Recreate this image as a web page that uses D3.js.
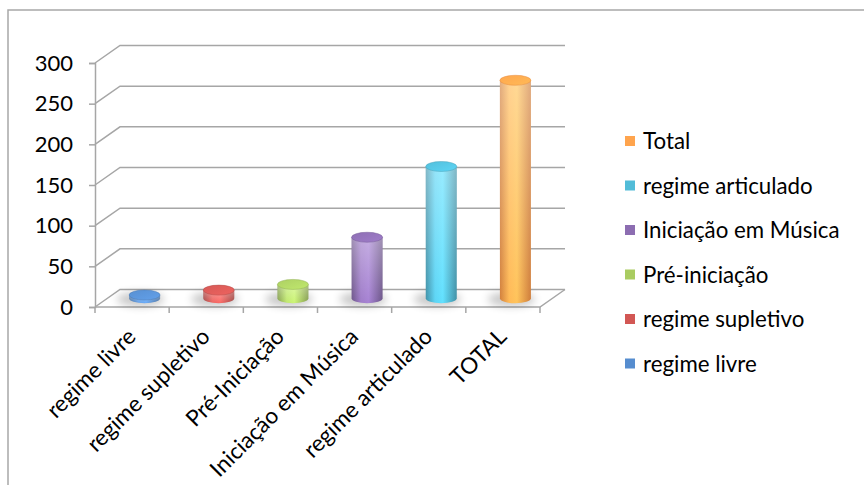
<!DOCTYPE html>
<html>
<head>
<meta charset="utf-8">
<script src="https://cdn.jsdelivr.net/npm/d3@7"></script>
<style>
  html, body { margin: 0; padding: 0; background: #fff; }
  svg { display: block; font-family: Lato, "Noto Sans", sans-serif; }
</style>
</head>
<body>
<svg id="chart" width="864" height="485"></svg>
<script>
// Alunos por regime de ensino
const categories = ["regime livre", "regime supletivo", "Pré-Iniciação", "Iniciação em Música", "regime articulado", "TOTAL"];
const values = [4, 10, 17, 75, 162, 268];
const seriesNames = ["regime livre", "regime supletivo", "Pré-iniciação", "Iniciação em Música", "regime articulado", "Total"];
const seriesColors = ["#4F81BD", "#C0504D", "#9BBB59", "#8064A2", "#4BACC6", "#F79646"];
const yTicks = [0, 50, 100, 150, 200, 250, 300];

const svg = d3.select("#chart");
const defs = svg.append("defs");

// outer frame
svg.append("path")
  .attr("d", "M8,485 L8,10 L864,10")
  .attr("fill", "none").attr("stroke", "#a8a8a8").attr("stroke-width", 1.5);

// 3D geometry: front plane + depth offset
const depthX = 25, depthY = -17.5;
const x = d3.scaleBand().domain(categories).range([95, 540]);
const y = d3.scaleLinear().domain([0, 300]).range([307, 63]);
const gridColor = "#a6a6a6";

const grid = svg.append("g");
// back-wall gridlines with left-wall diagonals
yTicks.forEach(t => {
  const y0 = y(t);
  grid.append("path")
    .attr("d", `M${x.range()[0]},${y0} L${x.range()[0] + depthX},${y0 + depthY} L${x.range()[1] + depthX},${y0 + depthY}`)
    .attr("fill", "none").attr("stroke", gridColor).attr("stroke-width", 1.5);
});
// floor front edge and right edge
grid.append("path")
  .attr("d", `M${x.range()[0]},${y(0)} L${x.range()[1]},${y(0)} L${x.range()[1] + depthX},${y(0) + depthY}`)
  .attr("fill", "none").attr("stroke", gridColor).attr("stroke-width", 1.5);

// vertical axis with ticks
const yAxis = d3.axisLeft(y).tickValues(yTicks).tickSize(6).tickPadding(16);
const yg = svg.append("g").attr("transform", `translate(${x.range()[0]},0)`).call(yAxis);
yg.select(".domain").attr("stroke", gridColor).attr("stroke-width", 1.5);
yg.selectAll(".tick line").attr("stroke", gridColor).attr("stroke-width", 1.5);
yg.selectAll(".tick text").attr("font-size", 22).attr("fill", "#000").attr("font-family", "Lato, sans-serif");

// horizontal axis ticks (at band boundaries)
const xEdges = categories.map(c => x(c)).concat([x.range()[1]]);
svg.append("g").selectAll("line").data(xEdges).join("line")
  .attr("x1", d => d).attr("x2", d => d)
  .attr("y1", y(0)).attr("y2", y(0) + 6)
  .attr("stroke", gridColor).attr("stroke-width", 1.5);

// category labels rotated
svg.append("g").selectAll("text").data(categories).join("text")
  .attr("transform", d => `translate(${x(d) + x.bandwidth() / 2 + 5},${y(0) + 31}) rotate(-45)`)
  .attr("text-anchor", "end")
  .attr("font-size", 22.5)
  .attr("fill", "#000")
  .text(d => d);

// gradients for cylinders
const shade = (c, k) => d3.color(c).brighter(k).formatHex();
const dark = (c, k) => d3.color(c).darker(k).formatHex();
seriesColors.forEach((c, i) => {
  const g = defs.append("linearGradient").attr("id", "body" + i)
    .attr("x1", "0").attr("x2", "1").attr("y1", "0").attr("y2", "0");
  g.append("stop").attr("offset", "0%").attr("stop-color", dark(c, 0.45));
  g.append("stop").attr("offset", "30%").attr("stop-color", shade(c, 0.6));
  g.append("stop").attr("offset", "55%").attr("stop-color", shade(c, 0.75));
  g.append("stop").attr("offset", "100%").attr("stop-color", dark(c, 0.5));
  const v = defs.append("linearGradient").attr("id", "gloss" + i)
    .attr("x1", "0").attr("x2", "0").attr("y1", "0").attr("y2", "1");
  v.append("stop").attr("offset", "0%").attr("stop-color", "#fff").attr("stop-opacity", 0.35);
  v.append("stop").attr("offset", "100%").attr("stop-color", "#fff").attr("stop-opacity", 0);
  const t = defs.append("linearGradient").attr("id", "cap" + i)
    .attr("x1", "0").attr("x2", "1").attr("y1", "0").attr("y2", "1");
  t.append("stop").attr("offset", "0%").attr("stop-color", shade(c, 0.3));
  t.append("stop").attr("offset", "100%").attr("stop-color", shade(c, 0.6));
});
defs.append("filter").attr("id", "soft").attr("x", "-50%").attr("y", "-100%").attr("width", "200%").attr("height", "300%")
  .append("feGaussianBlur").attr("stdDeviation", 4);

const rx = 15.5, ry = 5;
const bars = svg.append("g").selectAll("g").data(categories).join("g");
const cx = d => x(d) + x.bandwidth() / 2 + depthX / 2;
const yb = y(0) + depthY / 2;
const yt = (d, i) => y(values[i]) + depthY / 2;

// floor shadows
bars.append("ellipse")
  .attr("cx", d => cx(d) - 4).attr("cy", yb + 1)
  .attr("rx", rx + 8).attr("ry", ry + 2)
  .attr("fill", "#000").attr("opacity", 0.22)
  .attr("filter", "url(#soft)");

// cylinder bodies
const bodyPath = (d, i) => {
  const c = cx(d), top = yt(d, i);
  return `M${c - rx},${top} L${c - rx},${yb} A${rx},${ry} 0 0 0 ${c + rx},${yb} L${c + rx},${top} Z`;
};
bars.append("path").attr("d", bodyPath).attr("fill", (d, i) => `url(#body${i})`);
bars.append("path").attr("d", bodyPath).attr("fill", (d, i) => `url(#gloss${i})`);
// top caps
bars.append("ellipse")
  .attr("cx", d => cx(d)).attr("cy", (d, i) => yt(d, i))
  .attr("rx", rx).attr("ry", ry)
  .attr("fill", (d, i) => `url(#cap${i})`)
  .attr("stroke", (d, i) => dark(seriesColors[i], 0.2)).attr("stroke-width", 0.8).attr("stroke-opacity", 0.6);

// legend (reverse order)
const legendY0 = 141, legendStep = 44.5;
const legend = svg.append("g").selectAll("g")
  .data(seriesNames.map((n, i) => ({ n, c: seriesColors[i] })).reverse())
  .join("g")
  .attr("transform", (d, i) => `translate(625,${legendY0 + i * legendStep})`);
legend.append("rect").attr("x", 0).attr("y", -5).attr("width", 10).attr("height", 10)
  .attr("fill", d => shade(d.c, 0.25));
legend.append("text").attr("x", 18).attr("y", 0).attr("dy", "0.36em")
  .attr("font-size", 22.3).attr("fill", "#000").text(d => d.n);
</script>
</body>
</html>
